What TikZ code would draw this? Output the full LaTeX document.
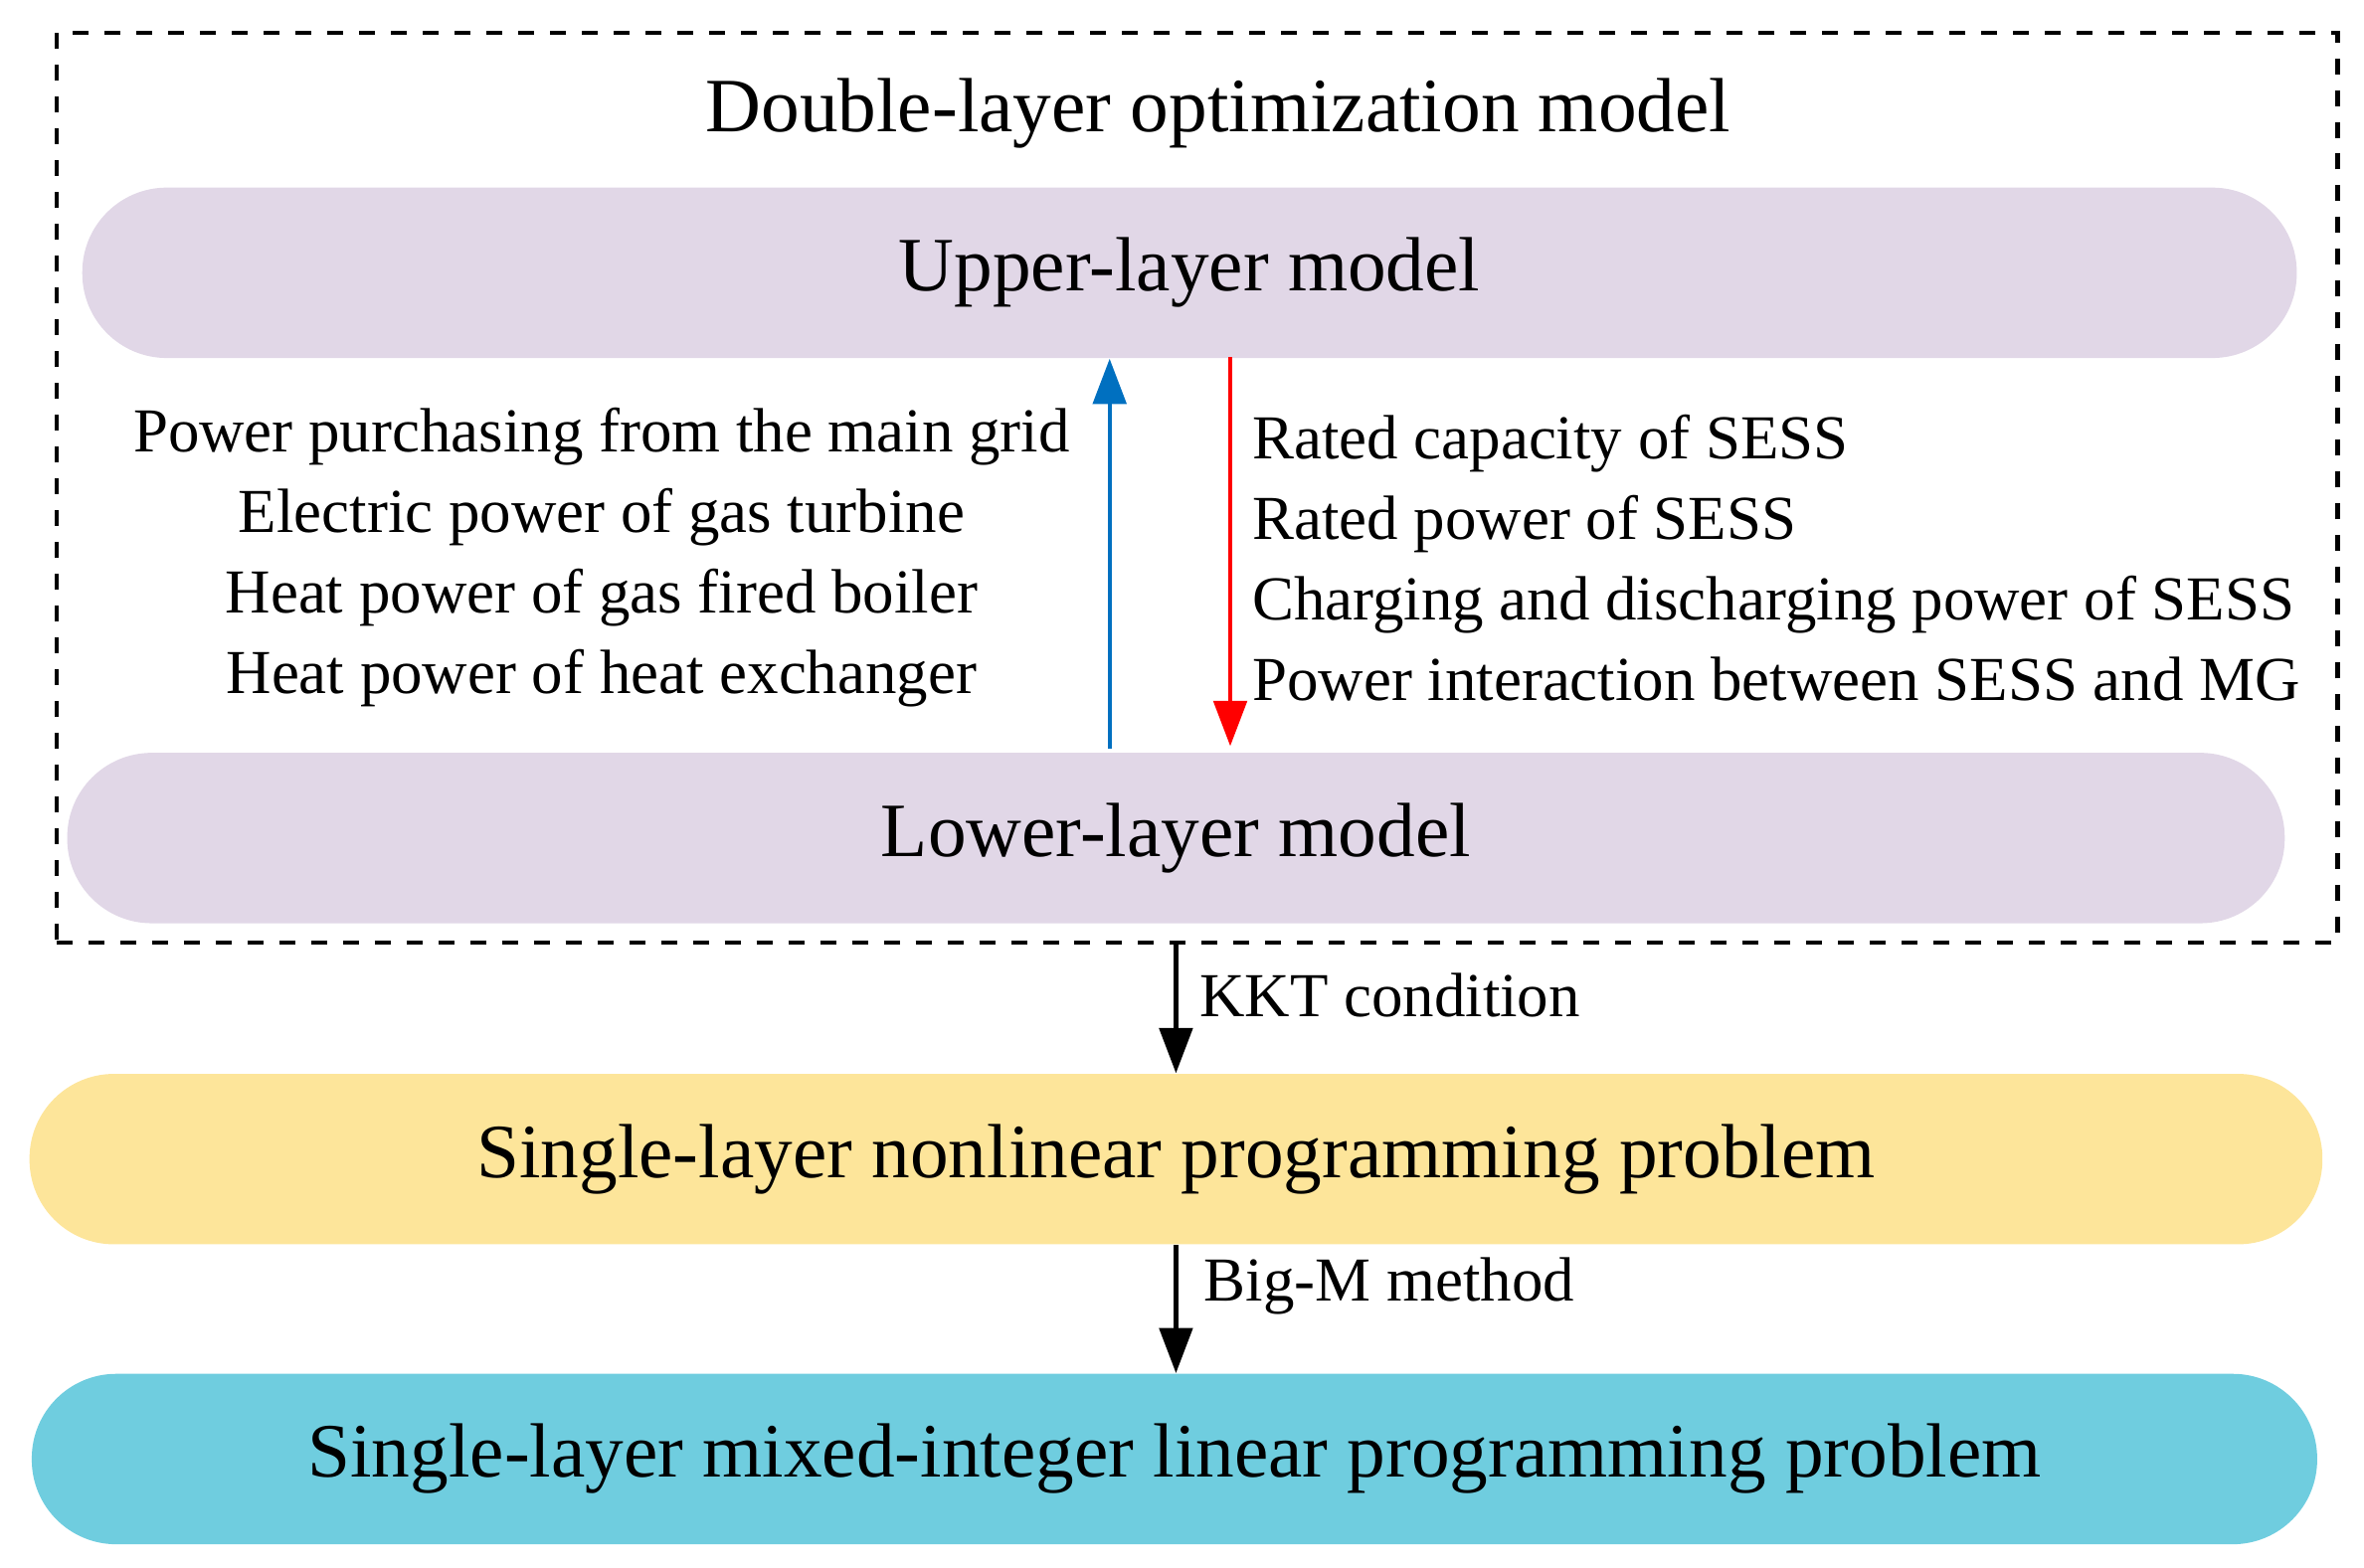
\documentclass[tikz,border=0pt]{standalone}
\usepackage{fontspec}
\setmainfont{Liberation Serif}
\usetikzlibrary{arrows.meta}
\definecolor{lpurple}{HTML}{E1D7E7}
\definecolor{lyellow}{HTML}{FDE59A}
\definecolor{lcyan}{HTML}{6FCDDF}
\definecolor{ablue}{HTML}{0070C0}
\begin{document}
\begin{tikzpicture}[x=0.01cm,y=-0.01cm,
  pill/.style={rounded corners=0.56cm,draw=none,minimum height=1.13cm,inner sep=0pt,font=\fontsize{14.5}{17}\selectfont},
  lab/.style={font=\fontsize{11.8}{15.2}\selectfont,inner sep=0pt},
  arr/.style={-{Triangle[length=0.3cm,width=0.22cm]},line width=0.8pt}]
\useasboundingbox (0,0) rectangle (1568,1040);
\node[draw,dashed,line width=0.8pt,minimum width=15.12cm,minimum height=6.03cm,inner sep=0pt] (frame) at (794,323.5) {};
\node[font=\fontsize{14.5}{17}\selectfont] (title) at (808,75) {Double-layer optimization model};
\node[pill,fill=lpurple,minimum width=14.68cm] (up) at (789,181) {Upper-layer model};
\node[pill,fill=lpurple,minimum width=14.70cm] (low) at (780,556) {Lower-layer model};
\node[pill,fill=lyellow,minimum width=15.20cm] (nl) at (780,769) {Single-layer nonlinear programming problem};
\node[pill,fill=lcyan,minimum width=15.15cm] (mi) at (779,968) {Single-layer mixed-integer linear programming problem};
\coordinate (b1) at (736,497); \coordinate (b2) at (736,238);
\coordinate (r1) at (816,237); \coordinate (r2) at (816,495);
\draw[arr,ablue] (b1) -- (b2);
\draw[arr,red] (r1) -- (r2);
\node[lab,align=center] (ll) at (399,370) {Power purchasing from the main grid\\Electric power of gas turbine\\Heat power of gas fired boiler\\Heat power of heat exchanger};
\node[lab,align=left,anchor=west] (rl) at (830,370) {Rated capacity of SESS\\Rated power of SESS\\Charging and discharging power of SESS\\Power interaction between SESS and MG};
\coordinate (k1) at (780,626); \coordinate (k2) at (780,712);
\draw[arr] (k1) -- (k2);
\node[lab,anchor=west] (kkt) at (795,660) {KKT condition};
\coordinate (m1) at (780,826); \coordinate (m2) at (780,911);
\draw[arr] (m1) -- (m2);
\node[lab,anchor=west] (bigm) at (798,853) {Big-M method};
\end{tikzpicture}
\end{document}
